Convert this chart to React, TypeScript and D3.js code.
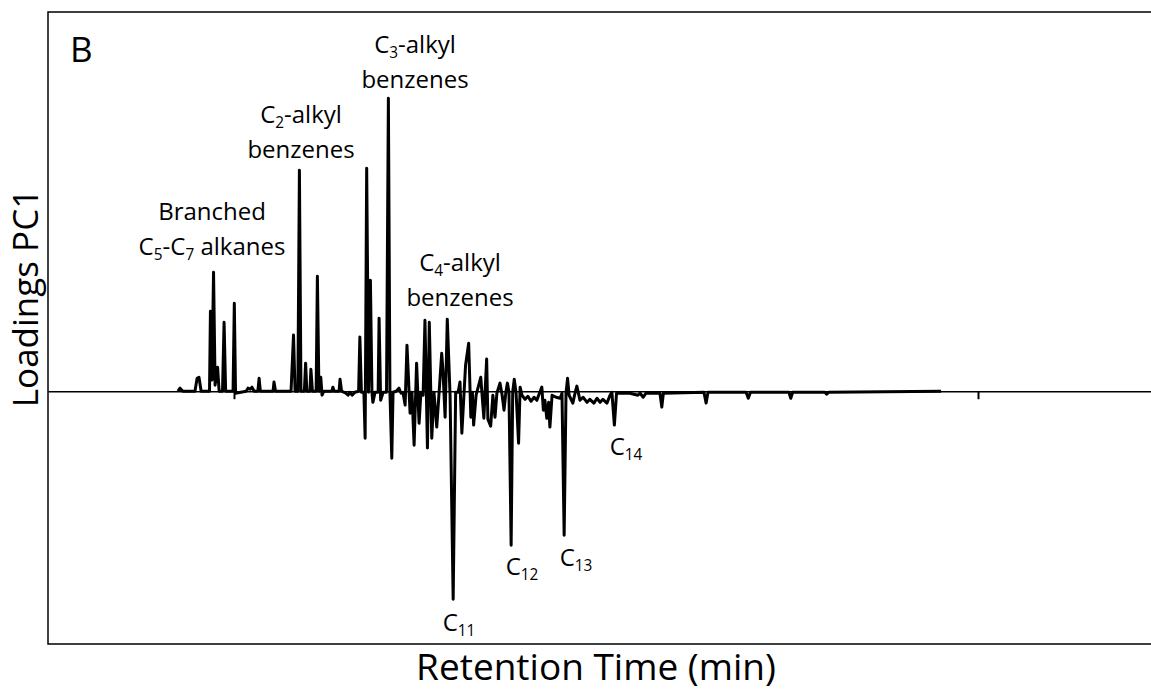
import React, { useEffect, useRef } from "react";
import * as d3 from "d3";

// PC1 loadings along the chromatographic retention time axis
const retentionTime = [
  4.19, 4.26, 4.35, 4.74, 4.81, 4.87, 4.94, 5.1, 5.21, 5.24, 5.29, 5.34, 5.39, 5.47, 5.52, 5.63, 5.68, 5.73,
  5.97, 6.01, 6.05, 6.39, 6.45, 6.52, 6.58, 6.65, 6.77, 6.81, 6.85, 7.26, 7.29, 7.34, 7.84, 7.92, 7.97,
  8.06, 8.11, 8.16, 8.27, 8.31, 8.35, 8.45, 8.48, 8.53, 8.65, 8.69, 8.74, 8.8, 8.84, 8.9, 9.16, 9.19, 9.23,
  9.39, 9.42, 9.47, 9.61, 9.68, 9.74, 9.81, 9.9, 10.02, 10.06, 10.11, 10.19, 10.23, 10.28, 10.34, 10.4,
  10.45, 10.48, 10.55, 10.65, 10.68, 10.73, 10.81, 10.92, 10.98, 11.03, 11.09, 11.13, 11.23, 11.32, 11.39,
  11.45, 11.52, 11.58, 11.68, 11.74, 11.81, 11.89, 11.97, 12.03, 12.1, 12.16, 12.24, 12.3, 12.38, 12.45,
  12.54, 12.61, 12.7, 12.74, 12.81, 12.88, 12.97, 13.07, 13.15, 13.23, 13.29, 13.35, 13.47, 13.57, 13.64,
  13.69, 13.73, 13.81, 13.96, 14.06, 14.15, 14.19, 14.28, 14.35, 14.42, 14.48, 14.58, 14.65, 14.71, 14.77,
  14.82, 14.87, 14.94, 14.99, 15.04, 15.1, 15.18, 15.23, 15.29, 15.39, 15.48, 15.58, 15.68, 15.77, 15.84,
  15.93, 15.98, 16.03, 16.09, 16.15, 16.19, 16.26, 16.39, 16.52, 16.58, 16.65, 16.71, 16.76, 16.81, 16.93,
  17.0, 17.06, 17.16, 17.26, 17.39, 17.48, 17.61, 17.71, 17.81, 17.9, 18.03, 18.13, 18.19, 18.27, 18.34,
  18.61, 18.77, 19.03, 19.1, 19.2, 19.29, 19.74, 19.8, 19.85, 21.16, 21.23, 21.29, 22.52, 22.59, 22.66,
  23.9, 23.96, 24.02, 25.06, 25.12, 25.18, 28.81,
];

const loading = [
  0, 0.0012, 0, 0, 0.0051, 0.0055, 0, 0, 0, 0.0316, 0.0044, 0.0471, 0.0024, 0.0095, 0, 0, 0.0273, 0,
  0, 0.0348, -0.0008, 0, 0.0012, 0.0008, 0.0016, 0, 0, 0.0051, 0, 0, 0.0036, 0, 0, 0.0222, 0,
  0, 0.0874, 0, 0, 0.0111, 0, 0, 0.0087, 0, 0, 0.0455, 0, 0.0055, -0.0016, 0, 0, 0.0016, 0,
  0, 0.0047, 0, -0.0008, -0.0016, -0.0004, -0.0016, -0.0004, 0, 0.0214, -0.0004, -0.0004, -0.0186, 0.0882, -0.0004, 0.0439,
  -0.0004, -0.0044, -0.0004, -0.0004, 0.0289, -0.0036, -0.0004, -0.0004, 0.1159, -0.0004, -0.0265, -0.0004, 0, 0.0012, -0.0008,
  -0.0004, -0.0055, 0.0182, -0.0087, -0.0004, -0.0214, 0.0111, -0.0127, -0.0004, -0.0016, 0.0281, -0.0225, 0.0273, -0.0186, -0.0004,
  -0.0142, -0.0016, 0.015, 0.0083, -0.0103, 0.0285, -0.0016, -0.0823, -0.0004, -0.0004, 0.0036, -0.0166, 0.0103, 0.019, -0.0103,
  -0.0004, -0.0134, -0.0016, 0.0055, -0.0107, 0.0127, -0.0111, -0.0138, -0.0016, -0.0103, -0.0008, 0.0032, -0.0016, -0.0075, -0.0004,
  0.0032, -0.0004, -0.0609, -0.0004, 0.0047, -0.0008, -0.0206, 0.0016, -0.0016, -0.0032, -0.002, -0.004, -0.0024, -0.0036, -0.0012,
  0.0016, -0.0075, -0.0036, -0.0107, -0.0044, -0.0142, -0.0016, -0.0024, -0.0028, -0.0008, -0.057, -0.0008, 0.0051, -0.0016, -0.0047,
  -0.0008, 0.002, -0.0036, -0.0024, -0.0044, -0.0032, -0.0047, -0.0028, -0.0044, -0.0032, -0.0047, -0.0016, -0.0004, -0.0134, -0.0008,
  -0.0008, -0.0008, -0.0016, -0.0008, -0.0024, -0.0008, -0.0008, -0.0063, -0.0008, -0.0004, -0.0047, -0.0004, -0.0004, -0.0028, -0.0004,
  -0.0004, -0.0028, -0.0004, -0.0004, -0.0012, -0.0004, 0,
];

const timeTicks = [6, 30];
const timeDomain = [0, 36];
const loadingDomain = [-0.1, 0.15];

const W = 1151;
const H = 691;
const FONT = "'Open Sans', 'DejaVu Sans', sans-serif";

// A text fragment and whether it is set as a subscript
type Part = [string, boolean];

// Centred, possibly multi-line chemical label; each line is a list of fragments.
function Formula({
  x,
  y,
  size,
  lines,
  lineHeight = 35,
}: {
  x: number;
  y: number;
  size: number;
  lines: Part[][];
  lineHeight?: number;
}) {
  const subSize = size * 0.64;
  const shift = size * 0.22;
  const spans: React.ReactNode[] = [];
  let offset = 0; // current baseline offset caused by subscripts
  lines.forEach((parts, li) => {
    parts.forEach(([s, isSub], pi) => {
      const target = isSub ? shift : 0;
      let dy = target - offset;
      if (pi === 0 && li > 0) dy += lineHeight;
      offset = target;
      spans.push(
        <tspan
          key={`${li}-${pi}`}
          x={pi === 0 ? x : undefined}
          dy={dy}
          fontSize={isSub ? subSize : size}
        >
          {s}
        </tspan>
      );
    });
  });
  return (
    <text x={x} y={y} textAnchor="middle" fontSize={size} fontFamily={FONT} fill="#000">
      {spans}
    </text>
  );
}

export default function App() {
  const axisRef = useRef<SVGGElement>(null);

  const left = 48;
  const top = 12;
  const bottom = 644;

  const x = d3.scaleLinear().domain(timeDomain).range([left, left + 36 * 31]);
  const y = d3.scaleLinear().domain(loadingDomain).range([bottom, top]);

  const points: [number, number][] = retentionTime.map((t, i) => [t, loading[i]]);
  const trace = d3
    .line<[number, number]>()
    .x((d) => x(d[0]))
    .y((d) => y(d[1]))(points);

  useEffect(() => {
    if (!axisRef.current) return;
    const g = d3.select(axisRef.current);
    g.selectAll("*").remove();
    g.call(
      d3
        .axisBottom(x)
        .tickValues(timeTicks)
        .tickSize(8)
        .tickSizeOuter(0)
        .tickFormat(() => "")
    );
    g.select(".domain").attr("stroke", "#000").attr("stroke-width", 1.5);
    g.selectAll(".tick line").attr("stroke", "#000").attr("stroke-width", 2);
  }, []);

  return (
    <svg
      width={W}
      height={H}
      style={{ position: "absolute", left: 0, top: 0, display: "block", background: "#fff" }}
    >
      <rect x={0} y={0} width={W} height={H} fill="#fff" />
      {/* plot frame */}
      <rect x={left} y={top} width={1200} height={bottom - top} fill="none" stroke="#000" strokeWidth={1.5} />

      {/* zero line with ticks */}
      <g ref={axisRef} transform={`translate(0,${y(0)})`} />

      {/* loadings trace */}
      <path d={trace ?? ""} fill="none" stroke="#000" strokeWidth={3} strokeLinejoin="round" />

      {/* panel letter */}
      <text x={70} y={62} fontSize={35} fontFamily={FONT}>
        B
      </text>

      {/* compound class annotations */}
      <Formula
        x={212}
        y={220}
        size={24}
        lines={[
          [["Branched", false]],
          [
            ["C", false],
            ["5", true],
            ["-C", false],
            ["7", true],
            [" alkanes", false],
          ],
        ]}
      />
      <Formula
        x={301}
        y={123}
        size={24}
        lines={[[["C", false], ["2", true], ["-alkyl", false]], [["benzenes", false]]]}
      />
      <Formula
        x={415}
        y={53}
        size={24}
        lines={[[["C", false], ["3", true], ["-alkyl", false]], [["benzenes", false]]]}
      />
      <Formula
        x={460}
        y={271}
        size={24}
        lines={[[["C", false], ["4", true], ["-alkyl", false]], [["benzenes", false]]]}
      />

      {/* n-alkane markers */}
      <Formula x={459} y={631} size={24} lines={[[["C", false], ["11", true]]]} />
      <Formula x={522} y={575} size={24} lines={[[["C", false], ["12", true]]]} />
      <Formula x={576} y={566} size={24} lines={[[["C", false], ["13", true]]]} />
      <Formula x={626} y={455} size={24} lines={[[["C", false], ["14", true]]]} />

      {/* axis titles */}
      <text x={596} y={680} textAnchor="middle" fontSize={37} fontFamily={FONT}>
        Retention Time (min)
      </text>
      <text
        transform="translate(38,298) rotate(-90)"
        textAnchor="middle"
        fontSize={35}
        fontFamily={FONT}
      >
        Loadings PC1
      </text>
    </svg>
  );
}
